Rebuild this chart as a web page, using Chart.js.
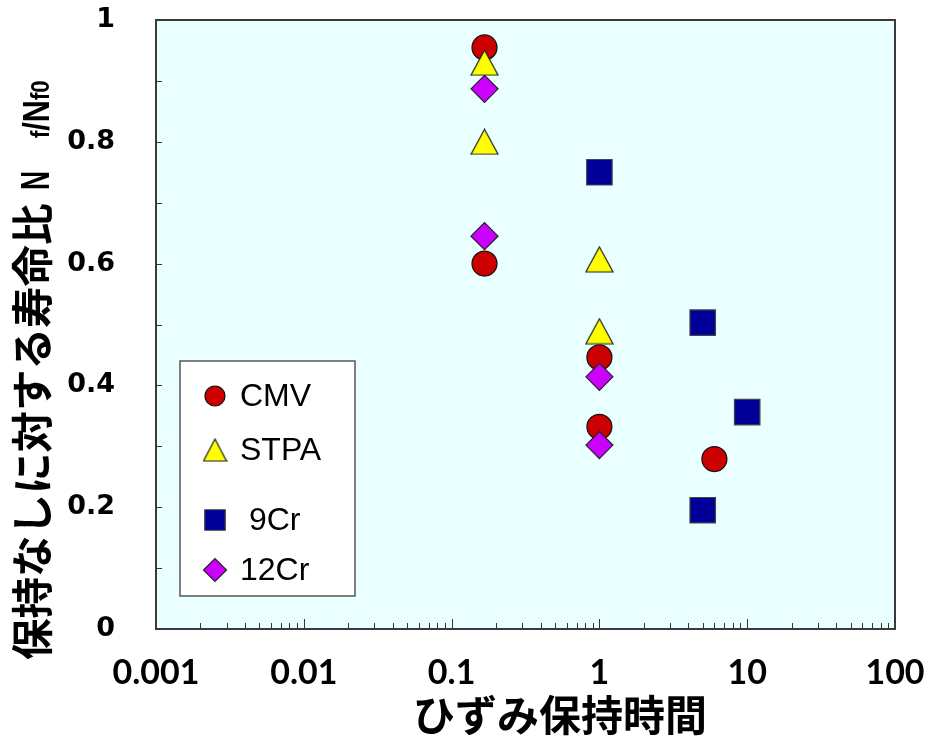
<!DOCTYPE html>
<html>
<head>
<meta charset="utf-8">
<script src="https://cdn.jsdelivr.net/npm/chart.js@4.4.1/dist/chart.umd.min.js"></script>
<style>
  html, body { margin: 0; padding: 0; background: #ffffff; }
  #wrap { width: 926px; height: 737px; }
</style>
</head>
<body>
<div id="wrap"><canvas id="c" width="926" height="737"></canvas></div>
<script>
// Strain hold time (h) vs. life ratio Nf/Nf0 for four steels
const seriesNames = ['CMV', 'STPA', '9Cr', '12Cr'];

const cmvX  = [0.167, 0.167, 1, 1, 6];
const cmvY  = [0.955, 0.600, 0.446, 0.332, 0.279];

const stpaX = [0.167, 0.167, 1, 1];
const stpaY = [0.930, 0.800, 0.607, 0.489];

const cr9X  = [1, 5, 10, 5];
const cr9Y  = [0.750, 0.503, 0.356, 0.195];

const cr12X = [0.167, 0.167, 1, 1];
const cr12Y = [0.887, 0.645, 0.414, 0.302];

const xTickValues = [0.001, 0.01, 0.1, 1, 10, 100];
const xTickLabels = ['0.001', '0.01', '0.1', '1', '10', '100'];
const yTickValues = [0, 0.2, 0.4, 0.6, 0.8, 1];
const yTickLabels = ['0', '0.2', '0.4', '0.6', '0.8', '1'];

const xTitle = 'ひずみ保持時間';
const yTitleMain = '保持なしに対する寿命比';

const pts = (xs, ys) => xs.map((x, i) => ({ x: x, y: ys[i] }));

// Upward triangle drawn on its own canvas so it sits centred on the point
function triangleImage(w, h, fill) {
  const cv = document.createElement('canvas');
  cv.width = w + 2; cv.height = h + 2;
  const g = cv.getContext('2d');
  g.beginPath();
  g.moveTo(cv.width / 2, 1);
  g.lineTo(w + 1, h + 1);
  g.lineTo(1, h + 1);
  g.closePath();
  g.fillStyle = fill;
  g.fill();
  g.lineWidth = 1.2;
  g.strokeStyle = '#222222';
  g.stroke();
  return cv;
}
const triBig = triangleImage(27, 25, '#FFFF00');
const triSmall = triangleImage(23, 22, '#FFFF00');

const datasets = [
  { label: seriesNames[0], data: pts(cmvX, cmvY), pointStyle: 'circle', pointRadius: 12.5,
    backgroundColor: '#CC0000', borderColor: '#111111', borderWidth: 1.2, order: 4 },
  { label: seriesNames[1], data: pts(stpaX, stpaY), pointStyle: triBig, pointRadius: 13,
    backgroundColor: '#FFFF00', borderColor: '#222222', borderWidth: 1.2, order: 3 },
  { label: seriesNames[2], data: pts(cr9X, cr9Y), pointStyle: 'rect', pointRadius: 18,
    backgroundColor: '#000099', borderColor: '#444444', borderWidth: 1.2, order: 2 },
  { label: seriesNames[3], data: pts(cr12X, cr12Y), pointStyle: 'rectRot', pointRadius: 13.5,
    backgroundColor: '#CC00FF', borderColor: '#222222', borderWidth: 1.2, order: 1 }
];

// Legend entries (style for the small markers in the boxed legend)
const legendStyles = [
  { style: 'circle', r: 10, fill: '#CC0000', stroke: '#111111' },
  { style: triSmall, r: 11, fill: '#FFFF00', stroke: '#222222' },
  { style: 'rect', r: 14.5, fill: '#000099', stroke: '#444444' },
  { style: 'rectRot', r: 11.5, fill: '#CC00FF', stroke: '#222222' }
];
const legendText = ['CMV', 'STPA', ' 9Cr', '12Cr'];

const PLOT_BG = '#EAFFFF';

// draws Latin text squeezed along its baseline direction
function condensedText(ctx, text, font, x, squeeze) {
  ctx.save();
  ctx.font = font;
  ctx.scale(squeeze, 1);
  ctx.fillText(text, x / squeeze, 0);
  const w = ctx.measureText(text).width * squeeze;
  ctx.restore();
  return w;
}

const framePlugin = {
  id: 'frame',
  beforeDatasetsDraw(chart) {
    const a = chart.chartArea, ctx = chart.ctx;
    ctx.save();
    ctx.fillStyle = PLOT_BG;
    ctx.fillRect(a.left, a.top, a.right - a.left, a.bottom - a.top);

    // inward tick marks
    const xs = chart.scales.x, ys = chart.scales.y;
    ctx.strokeStyle = '#333333';
    ctx.lineWidth = 1;
    ctx.beginPath();
    for (let d = 0; d < xTickValues.length; d++) {
      const base = xTickValues[d];
      const px = Math.round(xs.getPixelForValue(base)) + 0.5;
      ctx.moveTo(px, a.bottom); ctx.lineTo(px, a.bottom - 10);
      if (d < xTickValues.length - 1) {
        for (let m = 2; m <= 9; m++) {
          const p = Math.round(xs.getPixelForValue(base * m)) + 0.5;
          ctx.moveTo(p, a.bottom); ctx.lineTo(p, a.bottom - 6);
        }
      }
    }
    for (let k = 1; k < 10; k++) {
      const py = Math.round(ys.getPixelForValue(k / 10)) + 0.5;
      ctx.moveTo(a.left, py); ctx.lineTo(a.left + 6, py);
    }
    ctx.stroke();
    ctx.restore();
  },
  afterDatasetsDraw(chart) {
    const a = chart.chartArea, ctx = chart.ctx;
    ctx.save();
    // plot frame
    ctx.strokeStyle = '#3a3a3a';
    ctx.lineWidth = 2;
    ctx.strokeRect(a.left, a.top, a.right - a.left, a.bottom - a.top);

    // boxed legend inside the plot
    const lx = 180, ly = 361, lw = 175, lh = 235;
    ctx.fillStyle = '#ffffff';
    ctx.fillRect(lx, ly, lw, lh);
    ctx.strokeStyle = '#555555';
    ctx.lineWidth = 1.5;
    ctx.strokeRect(lx, ly, lw, lh);
    const rowY = [396, 450, 520, 570];
    ctx.font = '32px "Liberation Sans", Arial, sans-serif';
    ctx.textBaseline = 'middle';
    ctx.textAlign = 'left';
    for (let i = 0; i < legendStyles.length; i++) {
      const s = legendStyles[i];
      ctx.fillStyle = s.fill;
      ctx.strokeStyle = s.stroke;
      ctx.lineWidth = 1.2;
      Chart.helpers.drawPoint(ctx, { pointStyle: s.style, radius: s.r, rotation: 0, borderWidth: 1.2 }, 215, rowY[i]);
      ctx.fillStyle = '#000000';
      ctx.fillText(legendText[i], 240, rowY[i] + 1);
    }

    // axis titles
    ctx.fillStyle = '#000000';
    ctx.textAlign = 'center';
    ctx.textBaseline = 'alphabetic';
    ctx.font = 'bold 42px "Noto Sans CJK JP", sans-serif';
    ctx.fillText(xTitle, 560, 731);

    ctx.translate(49, 0);
    ctx.rotate(-Math.PI / 2);
    ctx.textAlign = 'left';
    ctx.font = 'bold 41.5px "Noto Sans CJK JP", sans-serif';
    ctx.translate(0, -1);
    ctx.fillText(yTitleMain, -660, 0);
    ctx.translate(0, 1);
    const big = 'bold 40px "Liberation Sans", sans-serif';
    const mid = 'bold 36px "Liberation Sans", sans-serif';
    const small = 'bold 26px "Liberation Sans", sans-serif';
    condensedText(ctx, 'N', big, -190, 0.66);
    let pos = -138;
    const parts = [['f', small], ['/N', mid], ['f0', small]];
    for (const [t, f] of parts) {
      pos += condensedText(ctx, t, f, pos, 0.85);
    }
    ctx.restore();
  }
};

new Chart(document.getElementById('c'), {
  type: 'scatter',
  data: { datasets: datasets },
  plugins: [framePlugin],
  options: {
    responsive: false,
    animation: false,
    events: [],
    layout: { padding: { left: 0, top: 20, right: 31, bottom: 0 } },
    plugins: { legend: { display: false }, tooltip: { enabled: false } },
    scales: {
      x: {
        type: 'logarithmic',
        min: 0.001, max: 100,
        grid: { display: false },
        border: { display: false },
        afterFit(s) { s.height = 108; s.paddingLeft = 0; s.paddingRight = 0; },
        afterBuildTicks(s) { s.ticks = xTickValues.map(v => ({ value: v })); },
        ticks: {
          autoSkip: false, maxRotation: 0, padding: 16, color: '#000000',
          font: { family: 'Lato, "Liberation Sans", sans-serif', weight: 'bold', size: 34 },
          callback: (v) => xTickLabels[xTickValues.indexOf(v)]
        }
      },
      y: {
        min: 0, max: 1,
        grid: { display: false },
        border: { display: false },
        afterFit(s) { s.width = 156; s.paddingTop = 0; s.paddingBottom = 0; },
        afterBuildTicks(s) { s.ticks = yTickValues.map(v => ({ value: v })); },
        ticks: {
          padding: 33, color: '#000000',
          font: { family: '"DejaVu Sans", sans-serif', weight: 'bold', size: 27 },
          callback: (v) => yTickLabels[yTickValues.indexOf(v)]
        }
      }
    }
  }
});
</script>
</body>
</html>
